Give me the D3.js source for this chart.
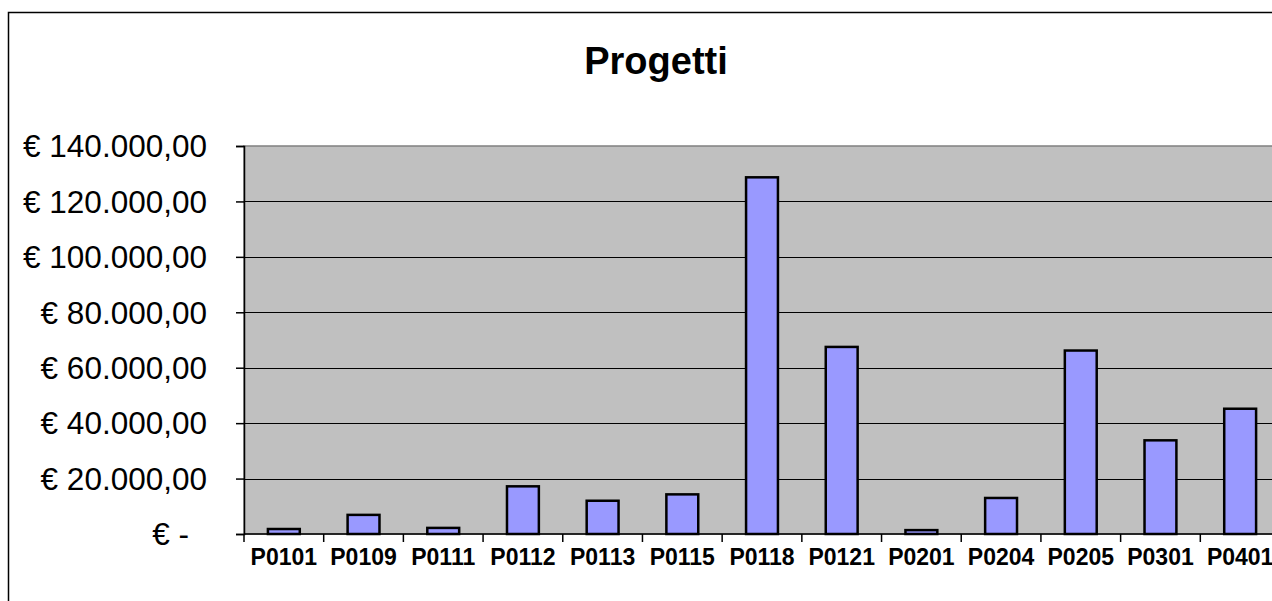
<!DOCTYPE html>
<html>
<head>
<meta charset="utf-8">
<script src="https://cdn.jsdelivr.net/npm/d3@7"></script>
<style>
  body { margin: 0; background: #fff; }
  svg { display: block; }
  text { font-family: "Liberation Sans", Arial, sans-serif; }
</style>
</head>
<body>
<svg id="chart"></svg>
<script>
// project codes and amounts (euro)
const categories = ["P0101", "P0109", "P0111", "P0112", "P0113", "P0115", "P0118",
  "P0121", "P0201", "P0204", "P0205", "P0301", "P0401"];
const amounts = [1800, 6900, 2200, 17200, 12000, 14300, 128700,
  67500, 1400, 13000, 66200, 33800, 45200];
const yTicks = [0, 20000, 40000, 60000, 80000, 100000, 120000, 140000];
const title = "Progetti";

const W = 1272, H = 601;
const margin = {top: 146, left: 244, bottom: 67};
const plotW = 1036, plotH = H - margin.top - margin.bottom;

const svg = d3.select("#chart").attr("width", W).attr("height", H);

// outer chart frame (runs off the right/bottom edge)
svg.append("rect")
  .attr("x", 8.5).attr("y", 12.5)
  .attr("width", W + 20).attr("height", H + 20)
  .attr("fill", "#fff").attr("stroke", "#000").attr("stroke-width", 1.5);

svg.append("text")
  .attr("x", 656).attr("y", 74)
  .attr("text-anchor", "middle")
  .attr("font-size", 38).attr("font-weight", "bold")
  .text(title);

const x = d3.scaleBand().domain(categories).range([0, plotW]).paddingInner(0.6).paddingOuter(0.3);
const xb = d3.scaleBand().domain(categories).range([0, plotW]);
const y = d3.scaleLinear().domain([0, 140000]).range([plotH, 0]);

const g = svg.append("g").attr("transform", `translate(${margin.left},${margin.top})`);

g.append("rect")
  .attr("width", plotW).attr("height", plotH)
  .attr("fill", "#c0c0c0").attr("stroke", "#808080").attr("stroke-width", 1.5);

// gridlines
g.append("g").selectAll("line")
  .data(yTicks.slice(1, -1))
  .join("line")
  .attr("x1", 0).attr("x2", plotW)
  .attr("y1", d => Math.round(y(d)) + 0.5).attr("y2", d => Math.round(y(d)) + 0.5)
  .attr("stroke", "#000").attr("stroke-width", 1);

// bars
g.append("g").selectAll("rect")
  .data(amounts)
  .join("rect")
  .attr("x", (d, i) => x(categories[i]))
  .attr("y", d => y(d))
  .attr("width", x.bandwidth())
  .attr("height", d => plotH - y(d))
  .attr("fill", "#9999ff").attr("stroke", "#000").attr("stroke-width", 2.5);

// y axis
const fmt = d => d === 0 ? "€ -" : "€ " + d3.format(",.2f")(d).replace(/,/g, "#").replace(".", ",").replace(/#/g, ".");
const yAxis = g.append("g")
  .call(d3.axisLeft(y).tickValues(yTicks).tickSize(8).tickPadding(0).tickFormat(""));
yAxis.select(".domain").attr("stroke-width", 1.5);
yAxis.selectAll(".tick line").attr("stroke-width", 1.5);
g.append("g").selectAll("text")
  .data(yTicks)
  .join("text")
  .attr("x", d => d === 0 ? -55 : -37)
  .attr("y", d => y(d))
  .attr("dy", "0.36em")
  .attr("text-anchor", "end")
  .attr("font-size", 31.5)
  .attr("fill", "#000")
  .text(fmt);

// x axis (ticks at category boundaries)
const xAxis = g.append("g").attr("transform", `translate(0,${plotH})`);
xAxis.append("line").attr("x1", 0).attr("x2", plotW).attr("stroke", "#000").attr("stroke-width", 1.5);
xAxis.selectAll("line.tick")
  .data(categories)
  .join("line").attr("class", "tick")
  .attr("x1", d => xb(d)).attr("x2", d => xb(d))
  .attr("y1", 0).attr("y2", 8)
  .attr("stroke", "#000").attr("stroke-width", 1.5);
xAxis.selectAll("text")
  .data(categories)
  .join("text")
  .attr("x", d => xb(d) + xb.bandwidth() / 2)
  .attr("y", 31)
  .attr("text-anchor", "middle")
  .attr("font-size", 23).attr("font-weight", "bold")
  .text(d => d);
</script>
</body>
</html>
